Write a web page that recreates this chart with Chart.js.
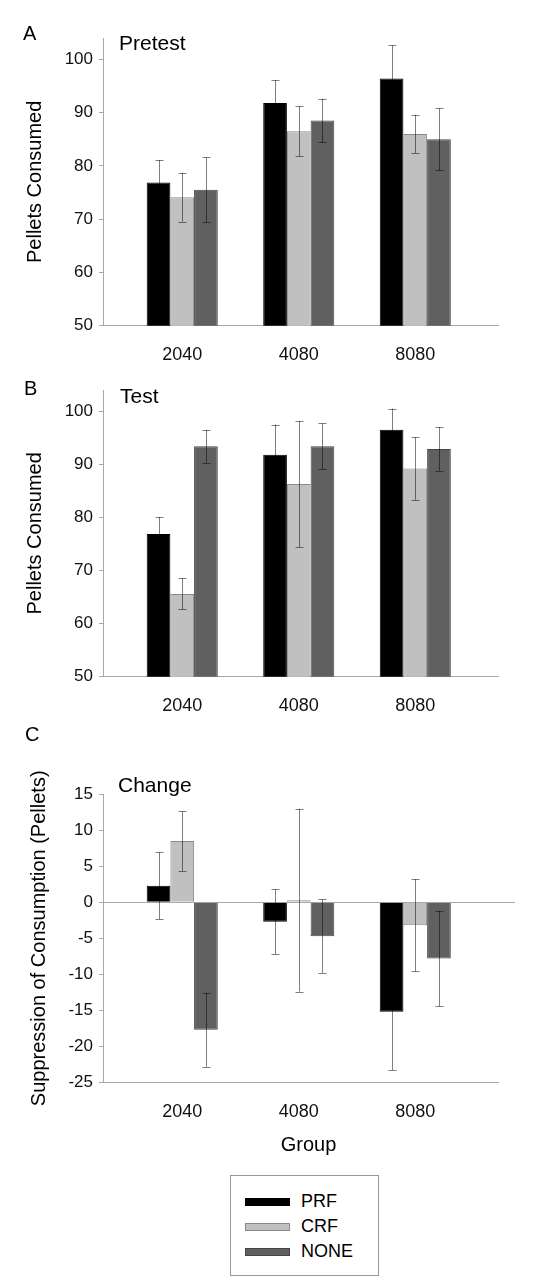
<!DOCTYPE html>
<html><head><meta charset="utf-8">
<script src="https://cdn.jsdelivr.net/npm/chart.js@4/dist/chart.umd.min.js"></script>
<style>
html,body{margin:0;padding:0;background:#fff;}
body{width:539px;height:1287px;position:relative;overflow:hidden;font-family:'Liberation Sans',Arial,sans-serif;}
canvas{position:absolute;left:0;}
#legend{position:absolute;left:230px;top:1175px;width:147px;height:99px;border:1px solid #999;}
.item{position:absolute;left:0;width:147px;height:25px;}
.sw{position:absolute;left:14px;top:8.5px;width:45px;height:8px;box-sizing:border-box;border:1px solid;}
.lab{position:absolute;left:70px;top:0;line-height:25px;font-size:18px;color:#000;}
</style></head><body>
<canvas id="cA" width="539" height="360" style="top:0"></canvas>
<canvas id="cB" width="539" height="360" style="top:360px"></canvas>
<canvas id="cC" width="539" height="440" style="top:720px"></canvas>
<div id="legend"></div>
<script>
// ---------- data ----------
const categories = ['2040', '4080', '8080'];
const seriesNames = ['PRF', 'CRF', 'NONE'];

const pretestPRF  = [76.9, 91.8, 96.4];
const pretestCRF  = [74.1, 86.5, 86.0];
const pretestNONE = [75.5, 88.5, 85.0];
const pretestPRFerr  = [4.2, 4.3, 6.2];
const pretestCRFerr  = [4.6, 4.7, 3.6];
const pretestNONEerr = [6.1, 4.1, 5.8];

const testPRF  = [76.9, 91.8, 96.5];
const testCRF  = [65.6, 86.3, 89.2];
const testNONE = [93.4, 93.4, 92.9];
const testPRFerr  = [3.2, 5.7, 4.0];
const testCRFerr  = [2.9, 11.9, 5.9];
const testNONEerr = [3.1, 4.3, 4.1];

const changePRF  = [2.3, -2.7, -15.2];
const changeCRF  = [8.5, 0.3, -3.2];
const changeNONE = [-17.7, -4.7, -7.8];
const changePRFerr  = [4.65, 4.5, 8.1];
const changeCRFerr  = [4.15, 12.7, 6.4];
const changeNONEerr = [5.15, 5.1, 6.65];

const consumedTicks = [50, 60, 70, 80, 90, 100];
const changeTicks = [-25, -20, -15, -10, -5, 0, 5, 10, 15];

// ---------- styles ----------
const FONT = '"Liberation Sans", Arial, sans-serif';
const fills = ['#000000', '#c0c0c0', '#606060'];
const borders = ['#000000', '#8a8a8a', '#454545'];
const axisColor = '#a8a8a8';
const X_MIN = -0.68, X_MAX = 2.71;

// ---------- plugins ----------
const errorBars = {
  id: 'errorBars',
  afterDatasetsDraw(chart) {
    const ctx = chart.ctx;
    const ys = chart.scales.y;
    ctx.save();
    ctx.strokeStyle = 'rgba(0,0,0,0.5)';
    ctx.lineWidth = 1;
    chart.data.datasets.forEach((ds, di) => {
      const meta = chart.getDatasetMeta(di);
      meta.data.forEach((bar, j) => {
        const v = ds.data[j].y, e = ds.errors[j];
        const x = Math.round(bar.x) + 0.5;
        const y1 = ys.getPixelForValue(v + e), y2 = ys.getPixelForValue(v - e);
        ctx.beginPath();
        ctx.moveTo(x, y1); ctx.lineTo(x, y2);
        ctx.moveTo(x - 4, Math.round(y1) + 0.5); ctx.lineTo(x + 4, Math.round(y1) + 0.5);
        ctx.moveTo(x - 4, Math.round(y2) + 0.5); ctx.lineTo(x + 4, Math.round(y2) + 0.5);
        ctx.stroke();
      });
    });
    ctx.restore();
  }
};

const panelText = {
  id: 'panelText',
  afterDraw(chart, args, opts) {
    const ctx = chart.ctx;
    ctx.save();
    ctx.fillStyle = '#000';
    ctx.textBaseline = 'middle';
    (opts.items || []).forEach(t => {
      ctx.font = t.size + 'px ' + FONT;
      ctx.textAlign = t.align || 'left';
      ctx.fillText(t.text, t.x, t.y);
    });
    ctx.restore();
  }
};

const zeroLine = {
  id: 'zeroLine',
  beforeDatasetsDraw(chart, args, opts) {
    if (!opts.show) return;
    const ctx = chart.ctx, a = chart.chartArea;
    const y = Math.round(chart.scales.y.getPixelForValue(0)) + 0.5;
    ctx.save();
    ctx.strokeStyle = axisColor;
    ctx.lineWidth = 1;
    ctx.beginPath();
    ctx.moveTo(a.left, y); ctx.lineTo(a.right + opts.extend, y);
    ctx.stroke();
    ctx.restore();
  }
};

function makeDatasets(vals, errs) {
  return vals.map((arr, k) => ({
    label: seriesNames[k],
    data: arr.map((v, i) => ({ x: i, y: v })),
    errors: errs[k],
    backgroundColor: fills[k],
    borderColor: borders[k],
    borderWidth: 1,
    categoryPercentage: 0.61,
    barPercentage: 1.0
  }));
}

function makeChart(id, cfg) {
  return new Chart(document.getElementById(id), {
    type: 'bar',
    data: { datasets: makeDatasets(cfg.vals, cfg.errs) },
    plugins: [errorBars, panelText, zeroLine],
    options: {
      responsive: false,
      animation: false,
      devicePixelRatio: 1,
      layout: { padding: { top: cfg.padTop, right: 41, left: 0, bottom: 0 } },
      plugins: {
        legend: { display: false },
        tooltip: { enabled: false },
        panelText: { items: cfg.texts },
        zeroLine: { show: !!cfg.zero, extend: 17 }
      },
      scales: {
        x: {
          type: 'linear',
          offset: false,
          bounds: 'data',
          min: X_MIN, max: X_MAX,
          afterDataLimits: s => { s.min = X_MIN; s.max = X_MAX; },
          afterBuildTicks: s => { s.ticks = categories.map((c, i) => ({ value: i })); s.min = X_MIN; s.max = X_MAX; },
          afterFit: s => { s.height = cfg.xHeight; },
          grid: { display: false, offset: false },
          border: { display: true, color: axisColor, width: 1 },
          ticks: {
            callback: v => categories[v],
            font: { family: FONT, size: 18 },
            color: '#111',
            padding: 10.5,
            maxRotation: 0, autoSkip: false
          }
        },
        y: {
          min: cfg.yMin, max: cfg.yMax,
          afterBuildTicks: s => { s.ticks = cfg.yTicks.map(v => ({ value: v })); },
          afterFit: s => { s.width = 103; },
          grid: { drawOnChartArea: false, drawTicks: true, tickLength: 4, color: axisColor },
          border: { display: true, color: axisColor, width: 1 },
          ticks: {
            callback: v => String(v),
            font: { family: FONT, size: 17 },
            color: '#111',
            padding: 6
          },
          title: {
            display: true,
            text: cfg.yTitle,
            font: { family: FONT, size: 20, lineHeight: 1.2 },
            color: '#000',
            padding: { top: cfg.titlePad, bottom: 0 }
          }
        }
      }
    }
  });
}

makeChart('cA', {
  vals: [pretestPRF, pretestCRF, pretestNONE],
  errs: [pretestPRFerr, pretestCRFerr, pretestNONEerr],
  yMin: 50, yMax: 104, yTicks: consumedTicks,
  padTop: 38, xHeight: 34.3, titlePad: 23.5,
  yTitle: 'Pellets Consumed',
  texts: [
    { text: 'A', x: 23, y: 34, size: 20 },
    { text: 'Pretest', x: 119, y: 44, size: 21 }
  ]
});

makeChart('cB', {
  vals: [testPRF, testCRF, testNONE],
  errs: [testPRFerr, testCRFerr, testNONEerr],
  yMin: 50, yMax: 104, yTicks: consumedTicks,
  padTop: 30, xHeight: 43.3, titlePad: 23.5,
  yTitle: 'Pellets Consumed',
  texts: [
    { text: 'B', x: 24, y: 29, size: 20 },
    { text: 'Test', x: 120, y: 37.5, size: 21 }
  ]
});

makeChart('cC', {
  vals: [changePRF, changeCRF, changeNONE],
  errs: [changePRFerr, changeCRFerr, changeNONEerr],
  yMin: -25, yMax: 15, yTicks: changeTicks,
  padTop: 74.3, xHeight: 77.7, titlePad: 27.5, zero: true,
  yTitle: 'Suppression of Consumption (Pellets)',
  texts: [
    { text: 'C', x: 25, y: 15.5, size: 20 },
    { text: 'Change', x: 118, y: 65.8, size: 21 },
    { text: 'Group', x: 308.5, y: 425, size: 20, align: 'center' }
  ]
});

// ---------- legend ----------
const legend = document.getElementById('legend');
seriesNames.forEach((name, k) => {
  const item = document.createElement('div');
  item.className = 'item';
  item.style.top = (13 + k * 25) + 'px';
  const sw = document.createElement('div');
  sw.className = 'sw';
  sw.style.background = fills[k];
  sw.style.borderColor = borders[k];
  const lab = document.createElement('div');
  lab.className = 'lab';
  lab.textContent = name;
  item.appendChild(sw); item.appendChild(lab);
  legend.appendChild(item);
});
</script>
</body></html>
